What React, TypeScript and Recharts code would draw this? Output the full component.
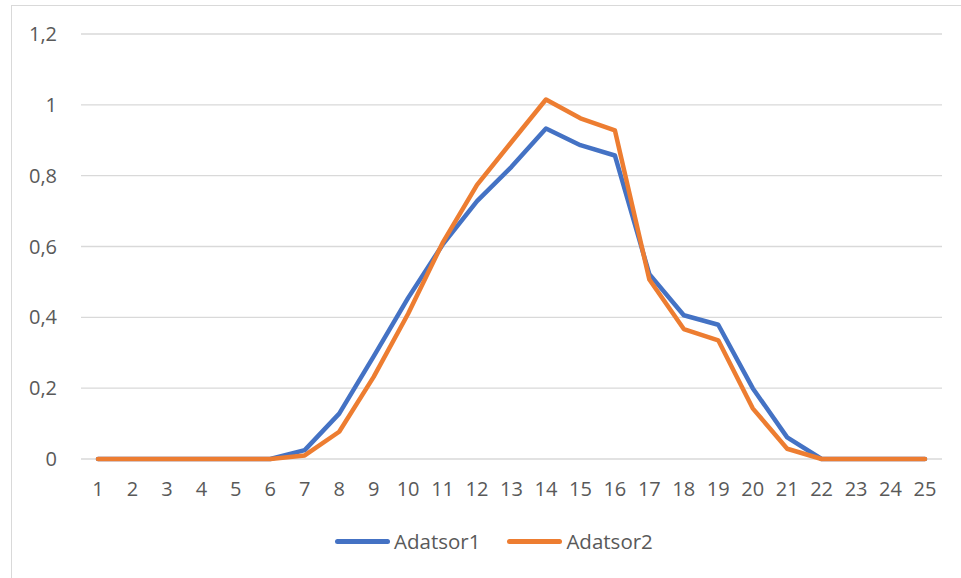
import React from "react";
import { LineChart, Line, XAxis, YAxis, CartesianGrid, Legend } from "recharts";

const BLUE = "#4472C4";
const ORANGE = "#ED7D31";
const TEXT = "#595959";
const GRID = "#D9D9D9";
const FONT = "'Open Sans', 'Liberation Sans', sans-serif";

const categories = ["1", "2", "3", "4", "5", "6", "7", "8", "9", "10", "11", "12", "13", "14", "15", "16", "17", "18", "19", "20", "21", "22", "23", "24", "25"];
const adatsor1 = [0, 0, 0, 0, 0, 0, 0.025, 0.128, 0.29, 0.455, 0.605, 0.728, 0.825, 0.933, 0.886, 0.857, 0.522, 0.406, 0.379, 0.2, 0.061, 0, 0, 0, 0];
const adatsor2 = [0, 0, 0, 0, 0, 0, 0.01, 0.077, 0.232, 0.41, 0.61, 0.774, 0.895, 1.015, 0.962, 0.928, 0.507, 0.367, 0.335, 0.143, 0.029, 0, 0, 0, 0];
const yTicks = [0, 0.2, 0.4, 0.6, 0.8, 1, 1.2];

const data = categories.map((c, i) => ({ cat: c, Adatsor1: adatsor1[i], Adatsor2: adatsor2[i] }));

function LegendBox() {
  const items = [
    { name: "Adatsor1", color: BLUE },
    { name: "Adatsor2", color: ORANGE },
  ];
  return (
    <div style={{ display: "flex", alignItems: "center", fontFamily: FONT, fontSize: 20.5, color: TEXT, whiteSpace: "nowrap" }}>
      {items.map((it, i) => (
        <div key={it.name} style={{ display: "flex", alignItems: "center", marginLeft: i === 0 ? 0 : 27 }}>
          <span style={{ display: "inline-block", width: 55, height: 5, borderRadius: 3, background: it.color }} />
          <span style={{ marginLeft: 4 }}>{it.name}</span>
        </div>
      ))}
    </div>
  );
}

export default function App() {
  return (
    <div style={{ position: "absolute", left: 0, top: 0, width: 961, height: 578, overflow: "hidden", background: "#fff" }}>
      <div style={{ position: "absolute", left: 11, top: 5, width: 980, height: 600, border: `1px solid ${GRID}` }} />
      <div style={{ position: "absolute", left: 0, top: 0 }}>
        <LineChart width={961} height={578} data={data} margin={{ top: 34, right: 19, left: 0, bottom: 21 }}>
          <CartesianGrid vertical={false} stroke={GRID} strokeWidth={1.3} />
          <XAxis
            dataKey="cat"
            padding={{ left: 17, right: 17 }}
            axisLine={false}
            tickLine={false}
            tickSize={0}
            tickMargin={23}
            height={68}
            interval={0}
            tick={{ fill: TEXT, fontSize: 20, fontFamily: FONT }}
          />
          <YAxis
            domain={[0, 1.2]}
            ticks={yTicks}
            width={81}
            axisLine={false}
            tickLine={false}
            tickSize={0}
            tickMargin={24}
            tickFormatter={(v: number) => String(v).replace(".", ",")}
            tick={{ fill: TEXT, fontSize: 20, fontFamily: FONT }}
          />
          <Legend
            content={() => <LegendBox />}
            verticalAlign="bottom"
            wrapperStyle={{ left: 335, width: 340, height: 30 }}
          />
          <Line type="linear" dataKey="Adatsor1" stroke={BLUE} strokeWidth={4.5} strokeLinejoin="round" strokeLinecap="round" dot={false} activeDot={false} isAnimationActive={false} />
          <Line type="linear" dataKey="Adatsor2" stroke={ORANGE} strokeWidth={4.5} strokeLinejoin="round" strokeLinecap="round" dot={false} activeDot={false} isAnimationActive={false} />
        </LineChart>
      </div>
    </div>
  );
}
